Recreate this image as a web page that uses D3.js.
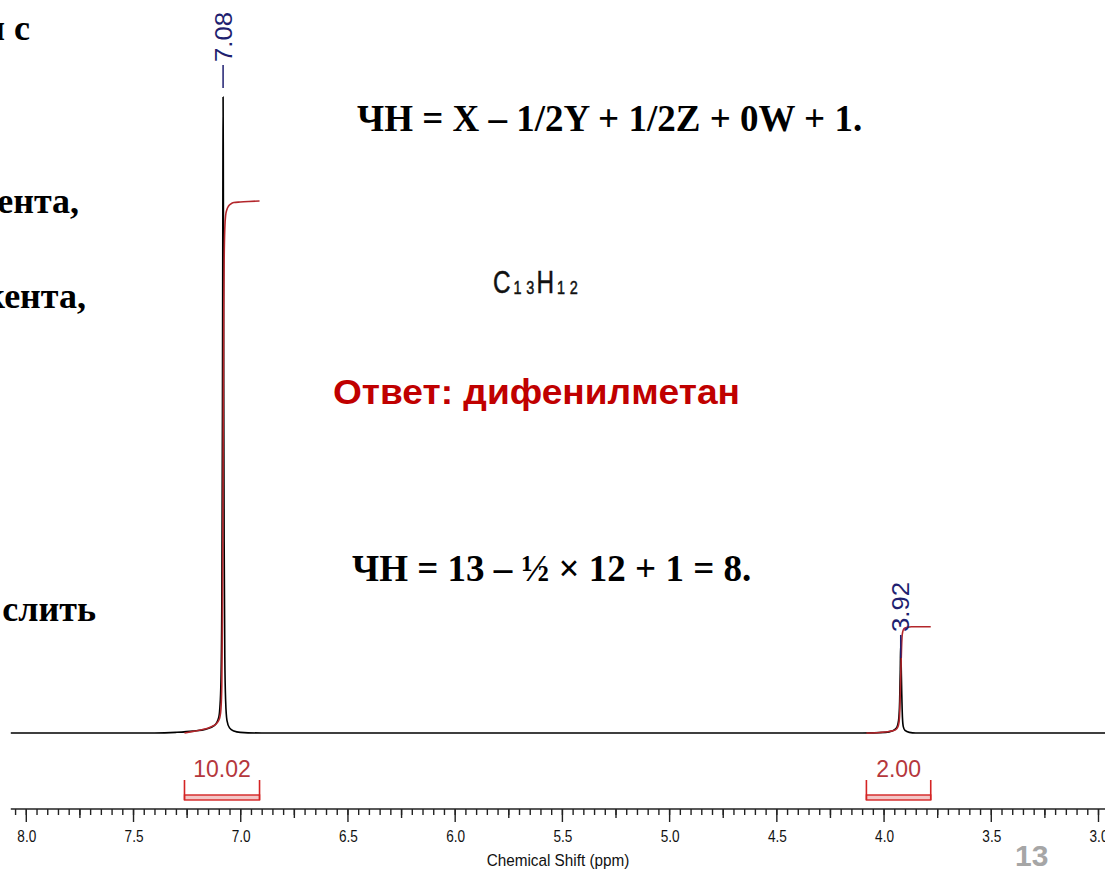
<!DOCTYPE html>
<html><head><meta charset="utf-8">
<script src="https://cdn.jsdelivr.net/npm/d3@7"></script>
<style>html,body{margin:0;padding:0;background:#fff;} svg{display:block;}</style>
</head><body>
<svg id="chart" width="1105" height="869"></svg>
<script>
// ---- 1H NMR spectrum samples: chemical shift (ppm) and relative intensity ----
const spectrumShift = [8.07, 7.40, 7.30, 7.22, 7.16, 7.12, 7.10, 7.095, 7.09, 7.086, 7.083, 7.081, 7.08, 7.079, 7.077, 7.075, 7.072, 7.068, 7.062, 7.05, 7.03, 7.00, 6.90,
                       4.10, 3.99, 3.96, 3.94, 3.93, 3.925, 3.922, 3.92, 3.918, 3.915, 3.912, 3.908, 3.90, 3.88, 3.85, 2.90];
const spectrumIntensity = [0, 0, 0.001, 0.003, 0.006, 0.012, 0.025, 0.04, 0.08, 0.2, 0.5, 0.85, 1.0, 0.9, 0.55, 0.3, 0.12, 0.05, 0.02, 0.008, 0.003, 0.001, 0,
                           0, 0.001, 0.003, 0.008, 0.02, 0.05, 0.1, 0.14, 0.11, 0.06, 0.025, 0.01, 0.004, 0.001, 0, 0];

// ---- peak picks ----
const peakShifts = [7.08, 3.92];
const peakLabels = ["7.08", "3.92"];

// ---- integral regions (ppm), values and running integral curves ----
const integralRanges = [[7.26, 6.91], [4.08, 3.78]];
const integralValues = [10.02, 2.00];
const integralLabels = ["10.02", "2.00"];
const integralShift1 = [7.26, 7.22, 7.18, 7.14, 7.11, 7.10, 7.095, 7.09, 7.086, 7.083, 7.081, 7.08, 7.079, 7.077, 7.075, 7.072, 7.068, 7.062, 7.055, 7.045, 7.03, 7.00, 6.96, 6.91];
const integralCurve1 = [0, 0.03, 0.06, 0.11, 0.18, 0.24, 0.3, 0.45, 0.9, 2.2, 3.8, 5.0, 6.2, 7.9, 8.9, 9.5, 9.75, 9.86, 9.92, 9.96, 9.99, 10.0, 10.01, 10.02];
const integralShift2 = [4.08, 4.02, 3.98, 3.96, 3.945, 3.935, 3.928, 3.924, 3.922, 3.92, 3.918, 3.916, 3.914, 3.911, 3.907, 3.90, 3.89, 3.87, 3.78];
const integralCurve2 = [0, 0.01, 0.025, 0.04, 0.06, 0.1, 0.2, 0.45, 0.75, 1.05, 1.35, 1.62, 1.8, 1.9, 1.95, 1.98, 1.99, 2.0, 2.0];

// ---- axis tick labels ----
const tickLabels = ["8.0", "7.5", "7.0", "6.5", "6.0", "5.5", "5.0", "4.5", "4.0", "3.5", "3.0"];

// ---- layout ----
const W = 1105, H = 869;
const svg = d3.select("#chart");
svg.append("rect").attr("width", W).attr("height", H).attr("fill", "#fff");

const x = d3.scaleLinear().domain([8.0, 3.0]).range([25.8, 1098]);
const y = d3.scaleLinear().domain([0, 1]).range([733, 97]);
const yInt = d3.scaleLinear().domain([0, 10]).range([733, 733 - 531]);

const serif = "'Liberation Serif','Times New Roman',serif";
const sans = "'Liberation Sans',Arial,sans-serif";

// ---- slide text around the spectrum ----
const leftText = [
  {t: "и с", xe: 30, yb: 40},
  {t: "ента,", xe: 79, yb: 213},
  {t: "кента,", xe: 86, yb: 308},
  {t: "слить", xe: 96, yb: 621}
];
svg.selectAll("text.left").data(leftText).join("text")
  .attr("class", "left")
  .attr("x", d => d.xe).attr("y", d => d.yb)
  .attr("text-anchor", "end")
  .attr("font-family", serif).attr("font-weight", "bold").attr("font-size", 36)
  .attr("fill", "#000").text(d => d.t);

svg.append("text").attr("x", 357).attr("y", 131)
  .attr("font-family", serif).attr("font-weight", "bold").attr("font-size", 37)
  .text("ЧН = X – 1/2Y + 1/2Z + 0W + 1.");

svg.append("text").attr("x", 352).attr("y", 581)
  .attr("font-family", serif).attr("font-weight", "bold").attr("font-size", 37)
  .text("ЧН = 13 – ½ × 12 + 1 = 8.");

svg.append("text").attr("x", 333).attr("y", 404)
  .attr("font-family", sans).attr("font-weight", "bold").attr("font-size", 35)
  .attr("fill", "#c00000")
  .attr("textLength", 407).attr("lengthAdjust", "spacingAndGlyphs")
  .text("Ответ: дифенилметан");

// molecular formula in a condensed face
const formula = svg.append("text")
  .attr("transform", "translate(493,293) scale(0.76,1)")
  .attr("font-family", sans).attr("font-size", 32).attr("fill", "#111")
  .attr("stroke", "#111").attr("stroke-width", 0.5);
formula.append("tspan").text("C");
formula.append("tspan").attr("dy", 1).attr("dx", 4).attr("font-size", 19).attr("letter-spacing", 6).text("13");
formula.append("tspan").attr("dy", -1).attr("dx", -3).attr("font-size", 32).text("H");
formula.append("tspan").attr("dy", 1).attr("dx", 4).attr("font-size", 19).attr("letter-spacing", 6).text("12");

// ---- spectrum trace ----
const specData = spectrumShift.map((s, i) => [s, spectrumIntensity[i]]);
const line = d3.line().x(d => x(d[0])).y(d => y(d[1])).curve(d3.curveMonotoneX);
svg.append("path").datum(specData)
  .attr("d", line).attr("fill", "none")
  .attr("stroke", "#000").attr("stroke-width", 1.6).attr("stroke-linejoin", "round");

// ---- integral curves ----
const intLine = d3.line().x(d => x(d[0])).y(d => yInt(d[1])).curve(d3.curveMonotoneX);
[[integralShift1, integralCurve1], [integralShift2, integralCurve2]].forEach(([s, v]) => {
  svg.append("path").datum(s.map((p, i) => [p, v[i]]))
    .attr("d", intLine).attr("fill", "none")
    .attr("stroke", "#b3262b").attr("stroke-width", 1.6).attr("stroke-linejoin", "round");
});

// ---- integral brackets and values ----
integralRanges.forEach((r, i) => {
  const x0 = x(r[0]), x1 = x(r[1]);
  const g = svg.append("g");
  g.append("rect").attr("x", x0).attr("y", 795).attr("width", x1 - x0).attr("height", 5)
    .attr("fill", "#f3c6c6").attr("stroke", "#d42424").attr("stroke-width", 1.4);
  g.append("path").attr("d", `M${x0},780V800M${x1},780V800`)
    .attr("stroke", "#d42424").attr("stroke-width", 1.6).attr("fill", "none");
  g.append("text").attr("x", (x0 + x1) / 2).attr("y", 777)
    .attr("text-anchor", "middle")
    .attr("font-family", sans).attr("font-size", 23).attr("fill", "#b5373c")
    .text(integralLabels[i]);
});

// ---- peak labels (rotated) ----
const labelGap = [35, 12];
peakShifts.forEach((p, i) => {
  const px = x(p);
  const top = y(spectrumIntensity[spectrumShift.indexOf(p)]);
  const bottom = top - labelGap[i];
  svg.append("line").attr("x1", px).attr("x2", px)
    .attr("y1", bottom + 3).attr("y2", bottom + 26)
    .attr("stroke", "#1f1f70").attr("stroke-width", 1.5);
  svg.append("text")
    .attr("transform", `translate(${px},${bottom}) rotate(-90)`)
    .attr("dominant-baseline", "central")
    .attr("font-family", sans).attr("font-size", 24).attr("fill", "#1f1f70")
    .attr("textLength", 50).attr("lengthAdjust", "spacingAndGlyphs")
    .text(peakLabels[i]);
});

// ---- chemical shift axis ----
const axisY = 809;
svg.append("line").attr("x1", x(8.07)).attr("x2", W).attr("y1", axisY).attr("y2", axisY)
  .attr("stroke", "#222").attr("stroke-width", 1.6);

const minorTicks = d3.range(161, 59, -1).map(k => k / 20);
const axisG = svg.append("g").attr("transform", `translate(0,${axisY})`);
axisG.call(d3.axisBottom(x).tickValues(minorTicks).tickSize(6).tickSizeOuter(0).tickFormat(""));
axisG.select(".domain").remove();
const majorAxis = svg.append("g").attr("transform", `translate(0,${axisY})`)
  .call(d3.axisBottom(x).tickValues(tickLabels.map(Number)).tickSize(13).tickSizeOuter(0).tickFormat(""));
majorAxis.select(".domain").remove();
const midAxis = svg.append("g").attr("transform", `translate(0,${axisY})`)
  .call(d3.axisBottom(x).tickValues(d3.range(31, 12, -2).map(k => k / 4)).tickSize(9).tickSizeOuter(0).tickFormat(""));
midAxis.select(".domain").remove();
svg.selectAll(".tick line").attr("stroke", "#222").attr("stroke-width", 1.4);

svg.selectAll("text.tl").data(tickLabels).join("text")
  .attr("class", "tl")
  .attr("transform", d => `translate(${Math.max(x(+d) + 1, 24)},842) scale(0.85,1)`)
  .attr("text-anchor", "middle")
  .attr("font-family", sans).attr("font-size", 16).attr("fill", "#111")
  .text(d => d);

svg.append("text").attr("transform", "translate(558,866) scale(0.9,1)").attr("text-anchor", "middle")
  .attr("font-family", sans).attr("font-size", 17).attr("fill", "#111")
  .text("Chemical Shift (ppm)");

// slide number
svg.append("text").attr("x", 1015).attr("y", 866)
  .attr("font-family", sans).attr("font-weight", "bold").attr("font-size", 30).attr("fill", "#a6a6a6")
  .text("13");
</script>
</body></html>
